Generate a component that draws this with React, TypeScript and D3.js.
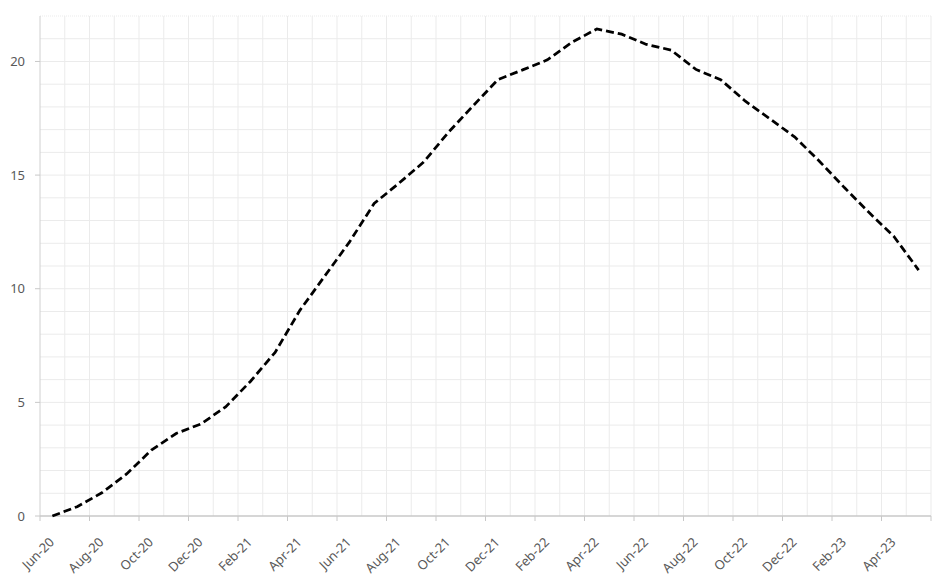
import React from "react";
import * as d3 from "d3";

const monthLabels = [
  "Jun-20", "Aug-20", "Oct-20", "Dec-20", "Feb-21", "Apr-21", "Jun-21", "Aug-21", "Oct-21",
  "Dec-21", "Feb-22", "Apr-22", "Jun-22", "Aug-22", "Oct-22", "Dec-22", "Feb-23", "Apr-23",
];

const months = [
  "2020-06", "2020-07", "2020-08", "2020-09", "2020-10", "2020-11", "2020-12",
  "2021-01", "2021-02", "2021-03", "2021-04", "2021-05", "2021-06", "2021-07", "2021-08", "2021-09", "2021-10", "2021-11", "2021-12",
  "2022-01", "2022-02", "2022-03", "2022-04", "2022-05", "2022-06", "2022-07", "2022-08", "2022-09", "2022-10", "2022-11", "2022-12",
  "2023-01", "2023-02", "2023-03", "2023-04", "2023-05",
];

const values = [
  0, 0.41, 1.02, 1.85, 2.9, 3.63, 4.05,
  4.8, 5.92, 7.2, 9.05, 10.55, 12.05, 13.75, 14.64, 15.57, 16.88, 18.05, 19.2,
  19.63, 20.07, 20.85, 21.43, 21.2, 20.75, 20.5, 19.65, 19.2, 18.25, 17.47, 16.67,
  15.6, 14.45, 13.35, 12.3, 10.82,
];

const yTicks = [0, 5, 10, 15, 20];

const W = 946;
const H = 581;
const left = 40;
const right = 931;
const top = 16;
const bottom = 516;

export default function App() {
  const nMonths = months.length + 1; // axis spans 36 months, ending at Jun-23
  const x = d3.scaleLinear().domain([0, nMonths - 1]).range([left, right]);
  const y = d3.scaleLinear().domain([0, 22]).range([bottom, top]);

  const line = d3
    .line<number>()
    .x((_, i) => x(i + 0.5))
    .y((d) => y(d));

  const vGrid = d3.range(1, nMonths);
  const hGrid = d3.range(1, 23);
  const font = "'Noto Sans', 'Open Sans', sans-serif";

  return (
    <svg width={W} height={H} style={{ position: "absolute", left: 0, top: 0, background: "#fff" }}>
      <rect x={0} y={0} width={W} height={H} fill="#ffffff" />
      {hGrid.map((v) => (
        <line
          key={"h" + v}
          x1={left}
          x2={right}
          y1={y(v)}
          y2={y(v)}
          stroke="#ebebeb"
          strokeWidth={1}
          strokeDasharray={v === 22 ? "1,1" : undefined}
        />
      ))}
      {vGrid.map((m) => (
        <line key={"v" + m} x1={x(m)} x2={x(m)} y1={top} y2={bottom} stroke="#ebebeb" strokeWidth={1} />
      ))}
      {/* y axis */}
      <line x1={left} x2={left} y1={top} y2={bottom} stroke="#d0d0d0" strokeWidth={1} />
      {yTicks.map((t) => (
        <g key={"yt" + t}>
          <line x1={left - 5} x2={left} y1={y(t)} y2={y(t)} stroke="#c8c8c8" />
          <text
            x={25}
            y={y(t)}
            dy="0.35em"
            textAnchor="end"
            fontFamily={font}
            fontSize={13}
            fill="#595959"
          >
            {t}
          </text>
        </g>
      ))}
      {/* x axis */}
      <line x1={left} x2={right} y1={bottom} y2={bottom} stroke="#c8c8c8" strokeWidth={1.5} />
      {monthLabels.map((lab, i) => {
        const xm = x(i * 2);
        return (
          <g key={lab}>
            <line x1={xm} x2={xm} y1={bottom} y2={bottom + 5} stroke="#c8c8c8" />
            <text
              transform={`translate(${xm + 15},${bottom + 27}) rotate(-45)`}
              textAnchor="end"
              fontFamily={font}
              fontSize={13}
              fill="#595959"
            >
              {lab}
            </text>
          </g>
        );
      })}
      <line x1={right} x2={right} y1={bottom} y2={bottom + 5} stroke="#c8c8c8" />
      <path
        d={line(values) || ""}
        fill="none"
        stroke="#000000"
        strokeWidth={2.75}
        strokeDasharray="8,4"
      />
    </svg>
  );
}
